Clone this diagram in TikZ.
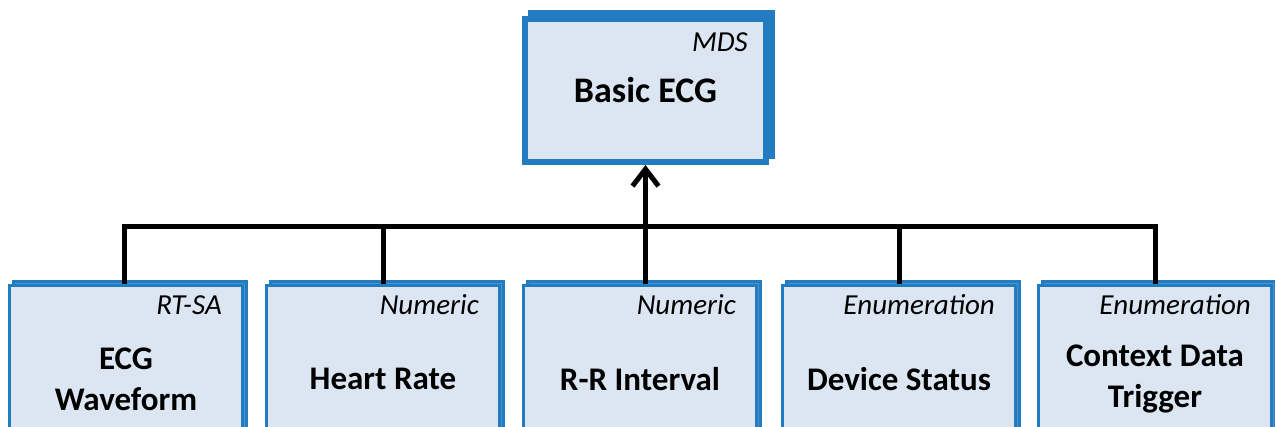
\documentclass[tikz,border=0pt]{standalone}
\usepackage{fontspec}
\setmainfont{Carlito}
\usetikzlibrary{arrows.meta,calc,shadows}

\definecolor{boxblue}{RGB}{36,124,192}
\definecolor{boxback}{RGB}{70,148,208}
\definecolor{boxfill}{RGB}{220,230,242}

\tikzset{
  objbox/.style={rectangle, draw=boxblue, fill=boxfill, inner sep=0pt,
    align=center, font=\bfseries\fontsize{33}{41}\selectfont},
  mdsbox/.style={objbox, line width=6pt, minimum width=241pt, minimum height=143pt,
    font=\bfseries\fontsize{36}{42}\selectfont,
    copy shadow={shadow xshift=6pt, shadow yshift=6pt, fill=boxblue, draw=boxblue, line width=6pt}},
  metbox/.style={objbox, line width=3pt, minimum width=233pt, minimum height=187pt,
    copy shadow={shadow xshift=4pt, shadow yshift=4pt, fill=boxback, draw=boxblue, line width=3pt}},
  typelabel/.style={inner sep=0pt, anchor=base east, font=\itshape\fontsize{29}{32}\selectfont},
  bus/.style={line width=5pt, line join=miter}
}

\begin{document}
\begin{tikzpicture}[x=1pt,y=-1pt]
\useasboundingbox (0,0) rectangle (1275,427);
\clip (0,0) rectangle (1275,427);

\node[mdsbox] (mds) at (645.5,90.5) {Basic ECG};
\node[typelabel] at ($(mds.north east)+(-21,36)$) {MDS};

\node[metbox] (wave) at (126,379) {ECG\\Waveform};
\node[metbox] (hr)   at (383,379) {Heart Rate};
\node[metbox] (rr)   at (640,379) {R-R Interval};
\node[metbox] (dev)  at (899,379) {Device Status};
\node[metbox] (ctx)  at (1155,379) {Context Data\\Trigger};

\node[typelabel] at ($(wave.north east)+(-22,31)$) {RT-SA};
\node[typelabel] at ($(hr.north east)+(-22,31)$) {Numeric};
\node[typelabel] at ($(rr.north east)+(-22,31)$) {Numeric};
\node[typelabel] at ($(dev.north east)+(-22,31)$) {Enumeration};
\node[typelabel] at ($(ctx.north east)+(-22,31)$) {Enumeration};

\coordinate (busL) at ($(wave.north)+(-1.5,-57)$);
\coordinate (busR) at (ctx.north |- busL);
\draw[bus] ($(wave.north)+(-1.5,0)$) -- (busL) -- (busR) -- (ctx.north);

\foreach \b in {hr,dev}
  \draw[bus] (\b.north) -- (\b.north |- busL);

\draw[bus,-{Straight Barb[length=17pt,width=26pt]}] (mds.south |- rr.north) -- (mds.south);
\end{tikzpicture}
\end{document}
